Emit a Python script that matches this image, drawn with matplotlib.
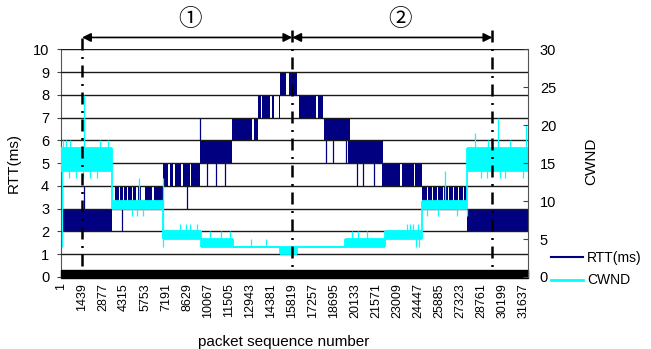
import numpy as np
import matplotlib
matplotlib.use("Agg")
import matplotlib.pyplot as plt
from matplotlib import font_manager as fm
from matplotlib.lines import Line2D


def have_font(name):
    try:
        fm.findfont(fm.FontProperties(family=name), fallback_to_default=False)
        return True
    except ValueError:
        return False


plt.rcParams["font.family"] = ["Liberation Sans", "DejaVu Sans"]
NARROW = "Liberation Sans Narrow" if have_font("Liberation Sans Narrow") else None

NAVY, CYAN = "#000080", "#00FFFF"

# x tick labels (packet sequence number, every 1438 packets)
xtick_labels = ["1", "1439", "2877", "4315", "5753", "7191", "8629", "10067",
                "11505", "12943", "14381", "15819", "17257", "18695", "20133",
                "21571", "23009", "24447", "25885", "27323", "28761", "30199",
                "31637"]

# RTT (ms): blocks where the value flips between lo and hi very fast
rtt_start = [1, 3485, 6963, 9487, 11669, 13442, 15011, 16306, 17964, 19648, 21967, 24675, 27785]
rtt_end = [3485, 6963, 9487, 11669, 13442, 15011, 16150, 17895, 19785, 22056, 24675, 27785, 31940]
rtt_lo = [2, 3, 4, 5, 6, 7, 8, 7, 6, 5, 4, 3, 2]
rtt_hi = [3, 4, 5, 6, 7, 8, 9, 8, 7, 6, 5, 4, 3]

# stretches inside a block where RTT sat still (show as white stripes)
gap_start = [3485, 3942, 4215, 4508, 4849, 5122, 5483, 6192,
             7338, 7679, 8190, 8804, 13081, 13647, 14329, 14602, 15420, 17445,
             23195, 24112, 25016, 25357, 25698, 26148, 26489, 26830, 27171, 27512]
gap_end = [3710, 4031, 4324, 4597, 4938, 5238, 5756, 6329,
           7440, 7781, 8327, 8907, 13190, 13715, 14445, 14895, 15577, 17581,
           23352, 24218, 25086, 25427, 25768, 26218, 26559, 26900, 27241, 27582]
gap_lo = [3, 3, 3, 3, 3, 3, 3, 3,
          4, 4, 4, 4, 6, 7, 7, 7, 8, 7,
          4, 4, 3, 3, 3, 3, 3, 3, 3, 3]

# single RTT excursions
rtt_spike_x = [60, 1575, 4147, 8648, 9487, 10012, 10578, 11212,
               18150, 18627, 19512, 20242, 20651, 21374]
rtt_spike_lo = [3, 3, 2, 3, 6, 4, 4, 4, 5, 5, 5, 4, 4, 4]
rtt_spike_hi = [4, 4, 3, 4, 7, 5, 5, 5, 6, 6, 6, 5, 5, 5]

# CWND: blocks (lo == hi means a flat run)
cw_start = [1, 3485, 6963, 9555, 11737, 15011, 16150, 19444, 22172, 24675, 27785]
cw_end = [3485, 6963, 9555, 11737, 15011, 16150, 19444, 22172, 24675, 27785, 31940]
cw_lo = [14, 9, 5, 4, 4, 3, 4, 4, 5, 9, 14]
cw_hi = [17, 10, 6, 5, 4, 4, 4, 5, 6, 10, 17]

# single CWND excursions
cw_spike_x = [60, 138, 343, 617, 1594, 2668, 3215,
              69, 528, 1027, 1506, 1984, 2463,
              4891, 5219, 5589, 5306, 6963,
              8140, 8550, 8823, 9282, 10191, 10923, 11559, 12965, 14035,
              19921, 20330, 20944, 23643, 23869, 24095, 24437, 24258, 24484,
              25016, 25766, 27062, 26264, 27785,
              28309, 29218, 29900, 30677, 31788,
              28698, 29107, 30014, 30355, 31603]
cw_spike_lo = [4, 17, 17, 17, 17, 17, 17,
               13, 13, 13, 13, 13, 13,
               8, 8, 8, 10, 4,
               6, 6, 6, 6, 5, 5, 5, 4, 4,
               5, 5, 5, 6, 6, 6, 6, 4, 4,
               8, 8, 8, 10, 8,
               17, 17, 17, 17, 17,
               13, 13, 13, 13, 13]
cw_spike_hi = [14, 18, 18, 18, 24, 18, 18,
               14, 14, 14, 14, 14, 14,
               9, 9, 9, 13, 13,
               7, 7, 7, 7, 6, 6, 6, 5, 5,
               6, 6, 6, 7, 7, 7, 7, 5, 5,
               9, 9, 9, 14, 9,
               19, 18, 21, 18, 20,
               14, 14, 14, 14, 14]

# phase markers
phase_x = [1439, 15819, 29500]
phase_top = [10.5, 10.85, 10.85]   # in RTT units, above the plot

fig = plt.figure(figsize=(6.51, 3.49), dpi=100)
ax = fig.add_axes([61 / 651, 1 - 277 / 349, 467 / 651, 227.7 / 349])
ax2 = ax.twinx()

# RTT
ax.bar(rtt_start, np.subtract(rtt_hi, rtt_lo), width=np.subtract(rtt_end, rtt_start),
       bottom=rtt_lo, align="edge", color=NAVY, linewidth=0, zorder=1)
ax.bar(gap_start, 1, width=np.subtract(gap_end, gap_start), bottom=gap_lo,
       align="edge", color="white", linewidth=0, zorder=1.2)
ax.vlines(rtt_spike_x, rtt_spike_lo, rtt_spike_hi, color=NAVY, lw=0.9, zorder=1.3)

ax.set_xlim(1, 31940)
ax.set_ylim(0, 10)
ax.set_axisbelow(False)
ax.yaxis.grid(True, color="#1a1a1a", lw=1.0)
ax.axhspan(-0.05, 0.3, color="black", zorder=3, clip_on=False)

# CWND
h = np.subtract(cw_hi, cw_lo)
ax2.bar(cw_start, h, width=np.subtract(cw_end, cw_start), bottom=cw_lo,
        align="edge", color=CYAN, linewidth=0, zorder=1)
ax2.hlines(cw_lo, cw_start, cw_end, color=CYAN, lw=1.3, zorder=1.1)
ax2.hlines(cw_hi, cw_start, cw_end, color=CYAN, lw=1.3, zorder=1.1)
for i in range(1, len(cw_start)):
    ax2.vlines(cw_start[i], min(cw_lo[i - 1], cw_lo[i]), max(cw_hi[i - 1], cw_hi[i]),
               color=CYAN, lw=1.3, zorder=1.1)
ax2.vlines(cw_spike_x, cw_spike_lo, cw_spike_hi, color=CYAN, lw=0.9, zorder=1.2)
ax2.set_ylim(0, 30)

# phase lines + arrows (drawn on the top axes so they sit over the data)
for x, top in zip(phase_x, phase_top):
    ax2.plot([x, x], [top * 3, 0.3 * 3], color="black", lw=1.8,
             ls=(0, (4.8, 2.6, 0.8, 2.6)), clip_on=False, zorder=5)
arrow_y = 10.52 * 3
for a, b in zip(phase_x[:-1], phase_x[1:]):
    ax2.annotate("", xy=(a, arrow_y), xytext=(b, arrow_y),
                 arrowprops=dict(arrowstyle="<|-|>", color="black", lw=1.2,
                                 mutation_scale=13, shrinkA=0, shrinkB=0),
                 annotation_clip=False)
for x, t in zip([8800, 23200], ["①", "②"]):
    ax2.text(x, 11.29 * 3, t, ha="center", va="center", fontsize=17,
             family=["Noto Sans CJK KR", "DejaVu Sans"], clip_on=False)

# axes cosmetics
tick_font = dict(family=NARROW, size=10.5) if NARROW else dict(size=9)
ax.set_xticks([int(s) for s in xtick_labels])
ax.set_xticklabels(xtick_labels, rotation=90, fontdict=tick_font)
ax.tick_params(axis="x", length=0, pad=4.5)
ax.set_yticks(range(11))
ax.set_yticklabels([str(v) for v in range(11)],
                   fontdict=dict(family=NARROW, size=12) if NARROW else dict(size=10.5))
ax.tick_params(axis="y", direction="out", length=3, pad=5.5, color="#444444")
ax2.set_yticks(range(0, 31, 5))
ax2.set_yticklabels([str(v) for v in range(0, 31, 5)],
                    fontdict=dict(family=NARROW, size=12) if NARROW else dict(size=10.5))
ax2.tick_params(axis="y", direction="in", length=3.6, pad=8.5, color="#444444")

for a in (ax, ax2):
    a.spines["top"].set_visible(False)
    a.spines["bottom"].set_visible(False)
ax2.spines["left"].set_visible(False)
ax.spines["right"].set_visible(False)
ax.spines["left"].set_color("#555555")
ax2.spines["right"].set_color("#555555")

ax.set_ylabel("RTT(ms)", fontsize=11)
ax.yaxis.set_label_coords(-0.0857, 0.5)
ax2.set_ylabel("CWND", fontsize=11)
ax2.yaxis.set_label_coords(1.12, 0.51)
ax.set_xlabel("packet sequence number", fontsize=11)
ax.xaxis.set_label_coords(0.4775, -0.255)

fig.legend(handles=[Line2D([], [], color=NAVY, lw=1.5), Line2D([], [], color=CYAN, lw=2)],
           labels=["RTT(ms)", "CWND"], loc="center left",
           bbox_to_anchor=(551 / 651, 1 - 269.3 / 349), frameon=False, fontsize=10,
           handlelength=2.3, handletextpad=0.3, labelspacing=0.6,
           borderpad=0, borderaxespad=0)

fig.savefig("out.png", dpi=100)
